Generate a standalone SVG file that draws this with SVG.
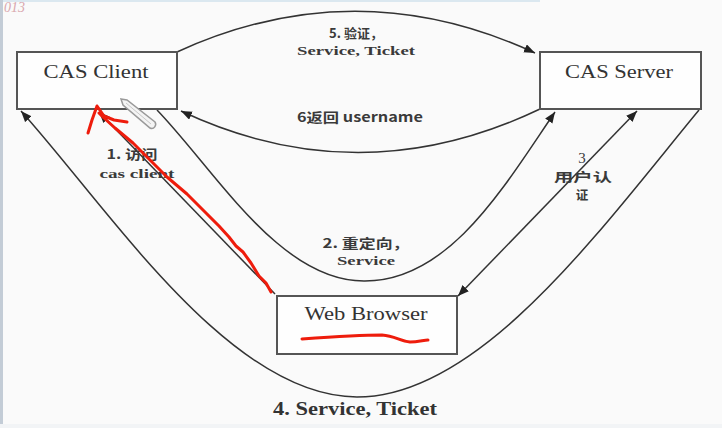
<svg xmlns="http://www.w3.org/2000/svg" width="722" height="428" viewBox="0 0 722 428">
  <defs>
    <marker id="arrow" viewBox="0 0 10 8" refX="10" refY="4" markerWidth="11" markerHeight="9" markerUnits="userSpaceOnUse" orient="auto-start-reverse">
      <path d="M0,0 L10,4 L0,8 Z" fill="#222"/>
    </marker>
    <style>
      .box { fill: #fefefe; stroke: #555; stroke-width: 2; }
      .title { font-family: "Liberation Serif", "Noto Sans CJK SC", serif; font-size: 18px; fill: #333; text-anchor: middle; }
      .lbl { font-family: "Liberation Serif", "Noto Sans CJK SC", serif; font-size: 13px; font-weight: bold; fill: #3a3a3a; text-anchor: middle; }
      .cn { font-family: "Noto Sans CJK SC", "Liberation Serif", sans-serif; font-size: 13px; font-weight: bold; fill: #3a3a3a; text-anchor: middle; }
      .edge { fill: none; stroke: #333; stroke-width: 1.5; }
      .ink { fill: none; stroke: #ee1c0c; stroke-width: 3; stroke-linecap: round; stroke-linejoin: round; }
    </style>
  </defs>

  <!-- page -->
  <rect x="0" y="0" width="722" height="428" fill="#fafafa"/>
  <rect x="0" y="0" width="540" height="2" fill="#dbe8f0"/>
  <rect x="0" y="0" width="3" height="428" fill="#c3ccd6"/>
  <rect x="0" y="424" width="722" height="4" fill="#f2f4f6"/>
  <text x="4" y="12" font-family="Liberation Serif, serif" font-style="italic" font-size="14" fill="#d9a7ad">013</text>

  <!-- connectors -->
  <g id="connectors">
    <!-- 5: client to server, over the top -->
    <path class="edge" d="M177,52 Q356,-30 535,53" marker-end="url(#arrow)"/>
    <!-- 6: server back to client -->
    <path class="edge" d="M540,109 Q360,195 181,111" marker-end="url(#arrow)"/>
    <!-- 1: browser to client -->
    <path class="edge" d="M275,294 L99,112" marker-end="url(#arrow)"/>
    <!-- 2: redirect loop through the middle -->
    <path class="edge" d="M157,110 C215,170 280,282 365,281 C450,281 505,185 555,112" marker-end="url(#arrow)"/>
    <!-- 3: browser and server, both ways -->
    <path class="edge" d="M458,296 L637,111" marker-start="url(#arrow)" marker-end="url(#arrow)"/>
    <!-- 4: outer loop under the browser -->
    <path class="edge" d="M699,110 C600,230 480,397 357,397 C230,397 110,210 21,111" marker-end="url(#arrow)"/>
  </g>

  <!-- edge labels -->
  <g id="labels">
    <text class="cn" x="356" y="38">5. 验证，</text>
    <text class="lbl" x="356" y="55" textLength="118" lengthAdjust="spacingAndGlyphs">Service, Ticket</text>
    <text class="cn" x="360" y="122" textLength="126" lengthAdjust="spacingAndGlyphs">6返回 username</text>
    <text class="cn" x="132" y="159" textLength="51" lengthAdjust="spacingAndGlyphs">1. 访问</text>
    <text class="lbl" x="137" y="178" textLength="75" lengthAdjust="spacingAndGlyphs">cas client</text>
    <text class="cn" x="366" y="248" textLength="87" lengthAdjust="spacingAndGlyphs">2. 重定向，</text>
    <text class="lbl" x="366" y="265" textLength="58" lengthAdjust="spacingAndGlyphs">Service</text>
    <text class="lbl" x="582" y="163" style="font-size:15px;font-weight:normal">3</text>
    <text class="cn" x="583" y="182" style="font-size:12.5px" textLength="58" lengthAdjust="spacingAndGlyphs">用户认</text>
    <text class="cn" x="582" y="200" style="font-size:12.5px">证</text>
    <text class="title" x="355" y="415" style="font-weight:bold" textLength="164" lengthAdjust="spacingAndGlyphs">4. Service, Ticket</text>
  </g>

  <!-- nodes -->
  <g id="cas-client">
    <rect class="box" x="17" y="52" width="160" height="57"/>
    <text class="title" x="96" y="78" textLength="105" lengthAdjust="spacingAndGlyphs">CAS Client</text>
  </g>
  <g id="cas-server">
    <rect class="box" x="540" y="52" width="161" height="57"/>
    <text class="title" x="619" y="78" textLength="108" lengthAdjust="spacingAndGlyphs">CAS Server</text>
  </g>
  <g id="web-browser">
    <rect class="box" x="277" y="296" width="180" height="58"/>
    <text class="title" x="366" y="320" textLength="123" lengthAdjust="spacingAndGlyphs">Web Browser</text>
  </g>

  <!-- hand-drawn red marks -->
  <g id="ink">
    <path class="ink" d="M271,292 L266,283 L259,276 L251,263 L243,252 L236,246 L229,237 L219,226 L207,214 L187,194 L167,177 L150,160 L133,143 L115,128 L104,118 L99,113"/>
    <path class="ink" d="M88,133 L92,120 L97,106 L104,116 L114,120 L127,122"/>
    <path class="ink" d="M302,339 C330,337 360,335 382,335 C395,336 400,341 410,342 C418,342 424,340 428,340"/>
  </g>

  <!-- pen cursor -->
  <g id="pen-cursor">
    <path d="M121,99 L127,100 L155,122 C157,125 154,130 150,128 L123,105 Z" fill="#f4f4f4" stroke="#9a9a9a" stroke-width="1.5"/>
    <path d="M126,103 L151,124" stroke="#c8c8c8" stroke-width="1"/>
  </g>
</svg>
